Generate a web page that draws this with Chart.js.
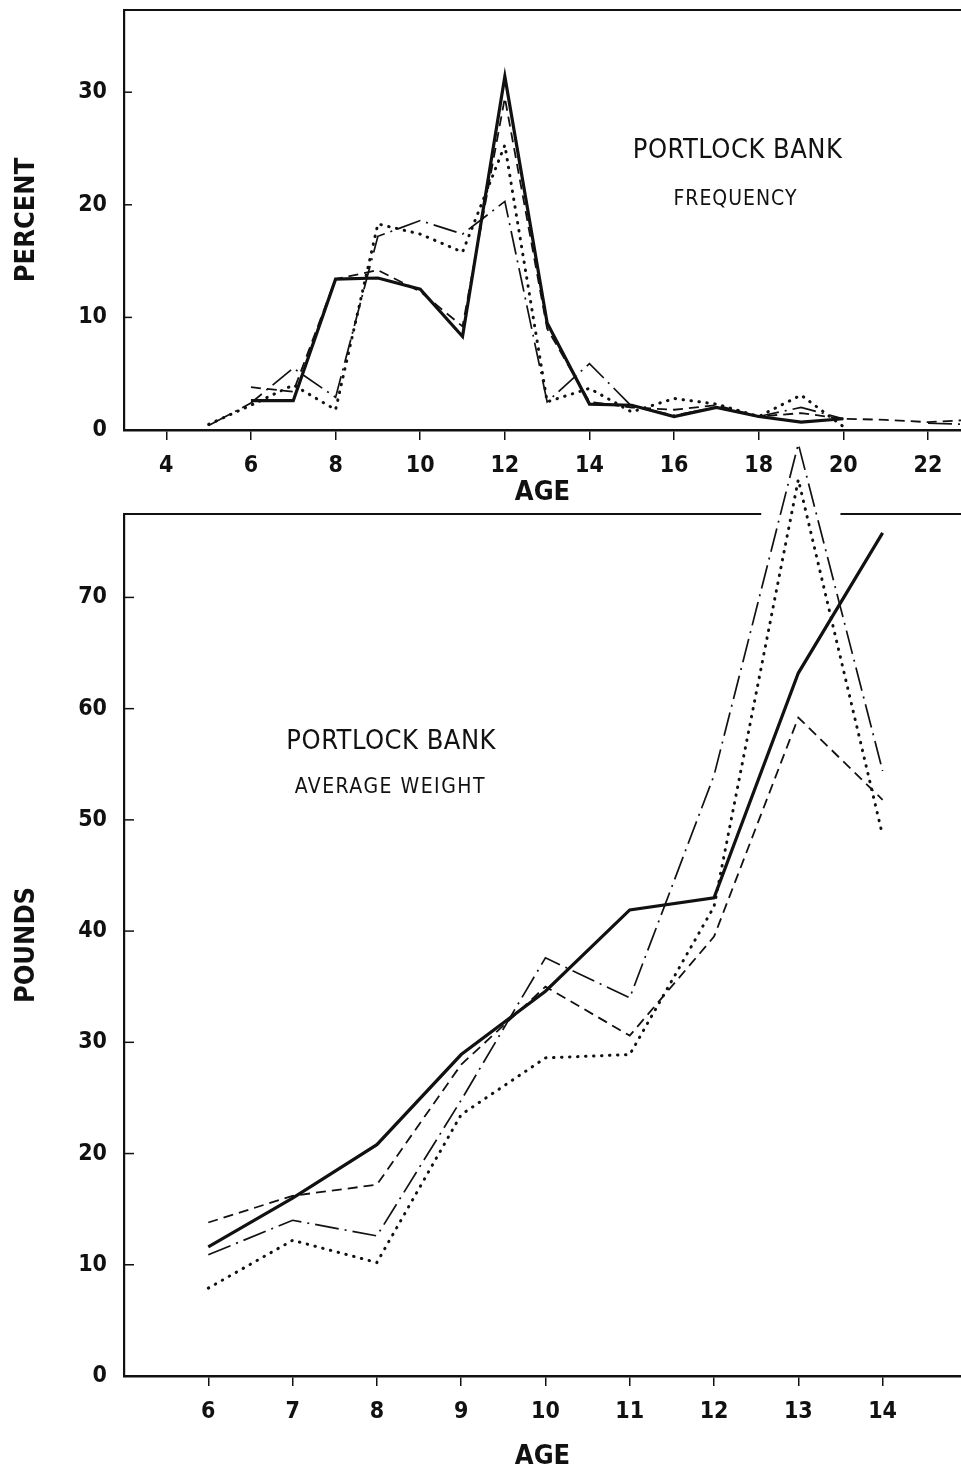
<!DOCTYPE html>
<html>
<head>
<meta charset="utf-8">
<script src="https://cdn.jsdelivr.net/npm/chart.js@4.4.1/dist/chart.umd.min.js"></script>
<style>
  html, body { margin: 0; padding: 0; background: #fff; }
  #wrap { position: relative; width: 961px; height: 1474px; overflow: hidden; }
  canvas { position: absolute; left: 0; top: 0; }
</style>
</head>
<body>
<div id="wrap">
  <canvas id="freqChart" width="961" height="1474"></canvas>
  <canvas id="weightChart" width="961" height="1474"></canvas>
</div>
<script>
const INK = "#111";

// --- frequency panel (percent by age) ---
const freqAges = [5, 6, 7, 8, 9, 10, 11, 12, 13, 14, 15, 16, 17, 18, 19, 20, 21, 22, 23];
const freqSolid = [null, 2.6, 2.6, 13.4, 13.5, 12.5, 8.3, 31.4, 9.5, 2.3, 2.2, 1.2, 2.0, 1.2, 0.7, 1.0, null, null, null];
const freqDashed = [null, 3.8, 3.4, 13.4, 14.2, 12.3, 9.2, 29.5, 9.0, 2.5, 2.0, 1.8, 2.2, 1.2, 1.5, 1.0, 0.9, 0.7, 0.9];
const freqDashDot = [0.4, 2.4, 5.5, 2.9, 17.2, 18.6, 17.4, 20.3, 2.5, 5.9, 2.1, 1.3, 2.0, 1.2, 2.0, 1.0, null, 0.6, 0.5];
const freqDotted = [0.5, 2.2, 4.0, 1.8, 18.3, 17.4, 15.8, 25.3, 2.5, 3.7, 1.6, 2.8, 2.3, 1.2, 3.1, 0.3, null, null, null];
const freqAgeTicks = [4, 6, 8, 10, 12, 14, 16, 18, 20, 22];
const percentTicks = [0, 10, 20, 30];

// --- average weight panel (pounds by age) ---
const weightAges = [6, 7, 8, 9, 10, 11, 12, 13, 14];
const weightSolid = [11.6, 16.0, 20.8, 28.9, 34.6, 41.9, 43.0, 63.2, 75.8];
const weightDashed = [13.8, 16.2, 17.2, 28.0, 35.0, 30.6, 39.5, 59.2, 51.8];
const weightDashDot = [10.9, 14.0, 12.6, 24.8, 37.6, 34.0, 54.0, 83.8, 54.4];
const weightDotted = [7.9, 12.2, 10.2, 23.5, 28.6, 28.9, 42.2, 80.6, 48.6];
const weightAgeTicks = [6, 7, 8, 9, 10, 11, 12, 13, 14];
const poundTicks = [0, 10, 20, 30, 40, 50, 60, 70];

const STYLES = {
    solid: { borderWidth: 3.2 },
    dashed: { borderWidth: 1.8, borderDash: [10, 6] },
    dashDot: { borderWidth: 1.7, borderDash: [24, 6, 2, 6] },
    dotted: { borderWidth: 3, borderDash: [0.5, 7.5], borderCapStyle: "round" }
};

const tickFont = { family: "'DejaVu Sans Condensed', 'DejaVu Sans'", size: 23, weight: "bold" };
const titleFont = { family: "'DejaVu Sans Condensed', 'DejaVu Sans'", size: 27, weight: "bold", lineHeight: 1 };
const noteFont = "27px 'DejaVu Sans Condensed', 'DejaVu Sans'";
const subNoteFont = "21px 'DejaVu Sans Condensed', 'DejaVu Sans'";

function series(label, ages, values, style, extra) {
    return Object.assign({
        label: label,
        data: ages.map((a, i) => ({ x: a, y: values[i] })),
        borderColor: INK,
        pointRadius: 0,
        fill: false,
        tension: 0,
        spanGaps: false
    }, style, extra || {});
}

function fixTicks(list) {
    return scale => { scale.ticks = list.map(v => ({ value: v })); };
}

// top border line and inward y tick marks
const framePlugin = {
    id: "frame",
    beforeDatasetsDraw(chart, args, opts) {
        const { ctx, chartArea } = chart;
        const xs = chart.scales.x;
        const ys = chart.scales.y;
        ctx.save();
        ctx.strokeStyle = INK;
        ctx.lineWidth = 2;
        ctx.beginPath();
        if (opts.gap) {
            ctx.moveTo(chartArea.left, chartArea.top);
            ctx.lineTo(xs.getPixelForValue(opts.gap[0]), chartArea.top);
            ctx.moveTo(xs.getPixelForValue(opts.gap[1]), chartArea.top);
            ctx.lineTo(chartArea.right, chartArea.top);
        } else {
            ctx.moveTo(chartArea.left, chartArea.top);
            ctx.lineTo(chartArea.right, chartArea.top);
        }
        ctx.stroke();
        ctx.lineWidth = 1.5;
        ys.ticks.forEach(t => {
            if (t.value === 0) return;
            const y = ys.getPixelForValue(t.value);
            ctx.beginPath();
            ctx.moveTo(chartArea.left, y);
            ctx.lineTo(chartArea.left + opts.tickLen, y);
            ctx.stroke();
        });
        ctx.restore();
    }
};

// free text inside the plot, placed in data units
const notesPlugin = {
    id: "notes",
    afterDraw(chart, args, opts) {
        const ctx = chart.ctx;
        const xs = chart.scales.x;
        const ys = chart.scales.y;
        ctx.save();
        ctx.fillStyle = INK;
        ctx.textAlign = "center";
        ctx.textBaseline = "middle";
        opts.items.forEach(n => {
            ctx.font = n.font;
            ctx.letterSpacing = n.spacing;
            ctx.fillText(n.text, xs.getPixelForValue(n.x), ys.getPixelForValue(n.y));
        });
        ctx.restore();
    }
};

function xAxis(min, max, ticks, height) {
    return {
        type: "linear", min: min, max: max,
        afterBuildTicks: fixTicks(ticks),
        afterFit: s => { s.height = height; s.paddingLeft = 0; s.paddingRight = 0; },
        grid: { drawOnChartArea: false, drawTicks: true, tickLength: 10, color: INK, lineWidth: 1.5 },
        border: { display: true, color: INK, width: 2.5 },
        ticks: { font: tickFont, color: INK, padding: 12, maxRotation: 0, autoSkip: false },
        title: { display: true, text: "AGE", font: titleFont, color: INK, padding: { top: 0, bottom: 4 } }
    };
}

function yAxis(max, ticks, label) {
    return {
        type: "linear", min: 0, max: max,
        afterBuildTicks: fixTicks(ticks),
        afterFit: s => { s.width = 124; s.paddingTop = 0; s.paddingBottom = 0; },
        grid: { display: false, drawTicks: false },
        border: { display: true, color: INK, width: 2.2 },
        ticks: { font: tickFont, color: INK, padding: 17 },
        title: { display: true, text: label, font: titleFont, color: INK, padding: { top: 13, bottom: 0 } }
    };
}

const baseOptions = {
    responsive: false,
    animation: false,
    events: []
};

new Chart(document.getElementById("freqChart").getContext("2d"), {
    type: "line",
    data: {
        datasets: [
            series("Solid", freqAges, freqSolid, STYLES.solid),
            series("Dashed", freqAges, freqDashed, STYLES.dashed),
            series("Dash-dot", freqAges, freqDashDot, STYLES.dashDot),
            series("Dotted", freqAges, freqDotted, STYLES.dotted)
        ]
    },
    plugins: [framePlugin, notesPlugin],
    options: Object.assign({}, baseOptions, {
        layout: { padding: { top: 10, left: 0, right: 0, bottom: 1474 - 510 } },
        scales: {
            x: xAxis(3, 22.78, freqAgeTicks, 80),
            y: yAxis(37.3, percentTicks, "PERCENT")
        },
        plugins: {
            legend: { display: false },
            tooltip: { enabled: false },
            frame: { tickLen: 8, gap: null },
            notes: {
                items: [
                    { text: "PORTLOCK BANK", x: 17.5, y: 24.8, font: noteFont, spacing: "0.5px" },
                    { text: "FREQUENCY", x: 17.45, y: 20.5, font: subNoteFont, spacing: "1px" }
                ]
            }
        }
    })
});

new Chart(document.getElementById("weightChart").getContext("2d"), {
    type: "line",
    data: {
        datasets: [
            series("Solid", weightAges, weightSolid, STYLES.solid, { clip: false }),
            series("Dashed", weightAges, weightDashed, STYLES.dashed, { clip: false }),
            series("Dash-dot", weightAges, weightDashDot, STYLES.dashDot, { clip: false }),
            series("Dotted", weightAges, weightDotted, STYLES.dotted, { clip: false })
        ]
    },
    plugins: [framePlugin, notesPlugin],
    options: Object.assign({}, baseOptions, {
        layout: { padding: { top: 514, left: 0, right: 0, bottom: 0 } },
        scales: {
            x: xAxis(5, 14.93, weightAgeTicks, 98),
            y: yAxis(77.5, poundTicks, "POUNDS")
        },
        plugins: {
            legend: { display: false },
            tooltip: { enabled: false },
            frame: { tickLen: 10, gap: [12.56, 13.5] },
            notes: {
                items: [
                    { text: "PORTLOCK BANK", x: 8.17, y: 57.0, font: noteFont, spacing: "0.5px" },
                    { text: "AVERAGE WEIGHT", x: 8.16, y: 52.9, font: subNoteFont, spacing: "1.5px" }
                ]
            }
        }
    })
});
</script>
</body>
</html>
